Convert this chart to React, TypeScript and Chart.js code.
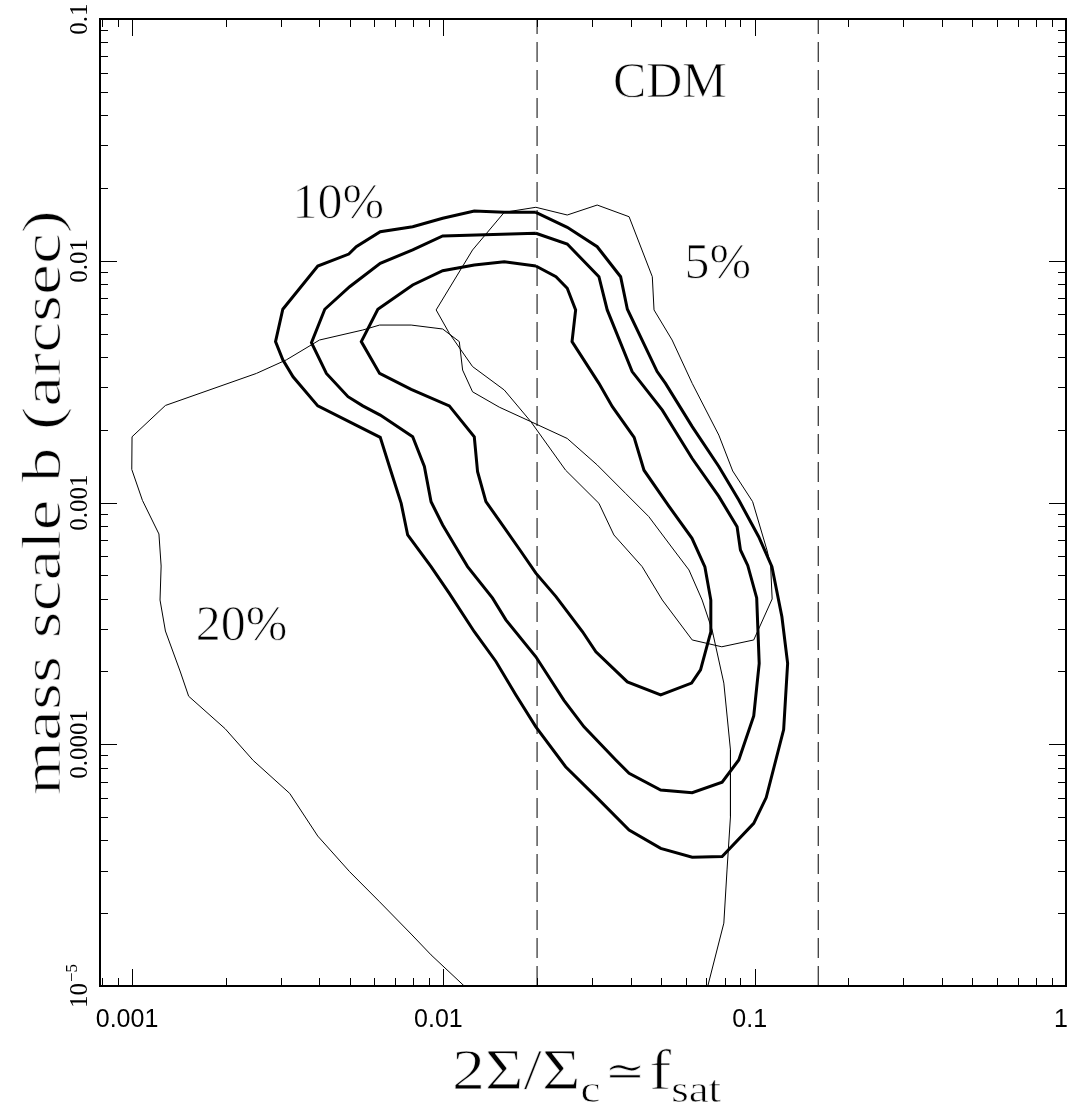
import React, { useEffect, useRef } from "react";
import { Chart, registerables } from "chart.js";

Chart.register(...registerables);

// ---------- data (x = 2Σ/Σc ≃ f_sat, y = mass scale b in arcsec) ----------
// thin 20% contour (open, enters and leaves through the bottom axis)
const c20X = [0.01167, 0.00913, 0.00788, 0.00624, 0.005, 0.00395, 0.00321, 0.00245, 0.00199, 0.00152, 0.00143, 0.00128, 0.00123, 0.00124, 0.00122, 0.00108, 0.000998, 0.001, 0.00128, 0.00251, 0.00313, 0.004, 0.00551, 0.00624, 0.00788, 0.00995, 0.01125, 0.01153, 0.01241, 0.01512, 0.0191, 0.025, 0.0312, 0.0385, 0.0457, 0.055, 0.0615, 0.0678, 0.073, 0.0796, 0.0836, 0.0836, 0.0815, 0.0796, 0.0707];
const c20Y = [1e-5, 1.345e-5, 1.64e-5, 2.23e-5, 2.97e-5, 4.17e-5, 6.26e-5, 8.57e-5, 1.16e-4, 1.58e-4, 1.99e-4, 2.94e-4, 3.95e-4, 5.46e-4, 7.41e-4, 1.02e-3, 1.37e-3, 1.87e-3, 2.52e-3, 3.42e-3, 3.89e-3, 4.7e-3, 5.17e-3, 5.42e-3, 5.42e-3, 5.22e-3, 4.63e-3, 3.53e-3, 2.87e-3, 2.48e-3, 2.16e-3, 1.84e-3, 1.43e-3, 1.09e-3, 8.74e-4, 6.36e-4, 5.26e-4, 3.95e-4, 2.97e-4, 1.79e-4, 9.47e-5, 5.02e-5, 3.02e-5, 1.82e-5, 1e-5];

// thin 5% contour (closed)
const c5X = [0.00948, 0.01241, 0.01569, 0.01982, 0.025, 0.0312, 0.0395, 0.0469, 0.0475, 0.0543, 0.063, 0.0767, 0.085, 0.0985, 0.1095, 0.1125, 0.1138, 0.0993, 0.0784, 0.063, 0.0505, 0.0435, 0.0353, 0.0316, 0.0247, 0.0191, 0.01569, 0.01241, 0.01045];
const c5Y = [6.26e-3, 0.01108, 0.01586, 0.01664, 0.01546, 0.017, 0.01521, 8.59e-3, 6.26e-3, 4.7e-3, 3.11e-3, 1.9e-3, 1.35e-3, 1.008e-3, 6.36e-4, 5.51e-4, 3.99e-4, 2.7e-4, 2.53e-4, 2.7e-4, 3.95e-4, 5.43e-4, 7.34e-4, 9.92e-4, 1.36e-3, 2.16e-3, 2.92e-3, 3.65e-3, 5.01e-3];

// thick 10% contours: outer, middle, inner (closed)
const outerX = [0.01982, 0.01569, 0.01257, 0.00995, 0.00797, 0.00627, 0.00525, 0.00497, 0.00395, 0.00305, 0.00289, 0.00305, 0.00329, 0.00395, 0.00627, 0.00671, 0.00732, 0.00768, 0.00913, 0.01045, 0.01257, 0.01475, 0.0171, 0.01982, 0.0247, 0.0309, 0.0395, 0.0499, 0.063, 0.0786, 0.0993, 0.1089, 0.1239, 0.1257, 0.1276, 0.1223, 0.1136, 0.103, 0.0889, 0.0767, 0.063, 0.0517, 0.0486, 0.039, 0.0371, 0.0312, 0.025];
const outerY = [0.01586, 0.01586, 0.01606, 0.01498, 0.01383, 0.01319, 0.01143, 0.01066, 9.51e-3, 6.3e-3, 4.63e-3, 3.89e-3, 3.31e-3, 2.51e-3, 1.86e-3, 1.41e-3, 9.92e-4, 7.34e-4, 5.43e-4, 4.21e-4, 2.92e-4, 2.2e-4, 1.6e-4, 1.18e-4, 8.07e-5, 6.07e-5, 4.42e-5, 3.71e-5, 3.41e-5, 3.43e-5, 4.71e-5, 6.02e-5, 1.15e-4, 1.57e-4, 2.16e-4, 3.37e-4, 5.43e-4, 7.22e-4, 1.024e-3, 1.41e-3, 2.06e-3, 3.11e-3, 3.48e-3, 6.3e-3, 8.59e-3, 0.01143, 0.01375];

const middleX = [0.01982, 0.00995, 0.00797, 0.00627, 0.005, 0.00416, 0.00377, 0.00421, 0.00494, 0.00551, 0.00627, 0.00797, 0.00869, 0.00913, 0.00995, 0.01111, 0.01196, 0.01439, 0.01588, 0.01982, 0.0244, 0.0283, 0.0358, 0.0395, 0.0499, 0.063, 0.0786, 0.0889, 0.0993, 0.1034, 0.1015, 0.095, 0.09, 0.0878, 0.0767, 0.063, 0.0505, 0.0404, 0.0336, 0.0316, 0.025];
const middleY = [0.01299, 0.01266, 0.01108, 9.76e-3, 7.81e-3, 6.3e-3, 4.58e-3, 3.42e-3, 2.74e-3, 2.51e-3, 2.3e-3, 1.87e-3, 1.41e-3, 1.008e-3, 8.07e-4, 6.36e-4, 5.43e-4, 4.02e-4, 3.27e-4, 2.3e-4, 1.52e-4, 1.18e-4, 8.61e-5, 7.58e-5, 6.47e-5, 6.3e-5, 6.97e-5, 8.61e-5, 1.31e-4, 2.16e-4, 4.03e-4, 5.49e-4, 6.36e-4, 7.94e-4, 1.06e-3, 1.52e-3, 2.41e-3, 3.48e-3, 6.26e-3, 8.59e-3, 0.01173];

const innerX = [0.01982, 0.01569, 0.01257, 0.00995, 0.00797, 0.00616, 0.00545, 0.00624, 0.00788, 0.01045, 0.01257, 0.01288, 0.0137, 0.01549, 0.01762, 0.01982, 0.023, 0.028, 0.0309, 0.039, 0.0499, 0.0627, 0.067, 0.0721, 0.0723, 0.0692, 0.0629, 0.053, 0.0441, 0.041, 0.0349, 0.0316, 0.0259, 0.0266, 0.025, 0.023];
const innerY = [9.51e-3, 9.91e-3, 9.6e-3, 9.1e-3, 7.94e-3, 6.3e-3, 4.63e-3, 3.42e-3, 2.94e-3, 2.51e-3, 1.87e-3, 1.34e-3, 1.008e-3, 8.07e-4, 6.36e-4, 5.1e-4, 4.08e-4, 2.92e-4, 2.41e-4, 1.81e-4, 1.6e-4, 1.79e-4, 2.03e-4, 2.88e-4, 3.95e-4, 5.41e-4, 7.11e-4, 9.67e-4, 1.36e-3, 1.86e-3, 2.49e-3, 3.11e-3, 4.63e-3, 6.26e-3, 7.69e-3, 8.59e-3];

// CDM band edges (dashed verticals)
const cdmEdges = [0.02, 0.16];

// axis ranges and ticks
const X_MIN = 0.000789;
const X_MAX = 1;
const Y_MIN = 1e-5;
const Y_MAX = 0.1;
const xMajorTicks = [0.001, 0.01, 0.1, 1];
const xTickLabels = ["0.001", "0.01", "0.1", "1"];
const xMinorTicks = [0.0008, 0.0009, 0.002, 0.003, 0.004, 0.005, 0.006, 0.007, 0.008, 0.009, 0.02, 0.03, 0.04, 0.05, 0.06, 0.07, 0.08, 0.09, 0.2, 0.3, 0.4, 0.5, 0.6, 0.7, 0.8, 0.9];
const yMajorTicks = [1e-5, 1e-4, 0.001, 0.01, 0.1];
const yTickLabels = ["10|−5", "0.0001", "0.001", "0.01", "0.1"];
const yMinorTicks = [2e-5, 3e-5, 4e-5, 5e-5, 6e-5, 7e-5, 8e-5, 9e-5, 2e-4, 3e-4, 4e-4, 5e-4, 6e-4, 7e-4, 8e-4, 9e-4, 0.002, 0.003, 0.004, 0.005, 0.006, 0.007, 0.008, 0.009, 0.02, 0.03, 0.04, 0.05, 0.06, 0.07, 0.08, 0.09];

// in-plot annotations (placed at data coordinates)
const noteTexts = ["10%", "5%", "20%", "CDM"];
const noteX = [0.0046, 0.0761, 0.00225, 0.0534];
const noteY = [0.0150, 0.00849, 0.00027, 0.0476];

const Y_TITLE = "mass scale b (arcsec)";

const W = 1073;
const H = 1114;
const SERIF = '"Liberation Serif", "DejaVu Serif", serif';
const SANS = '"Liberation Sans", Arial, sans-serif';

function pts(xs: number[], ys: number[], close: boolean) {
  const p = xs.map((x, i) => ({ x, y: ys[i] }));
  if (close) p.push({ x: xs[0], y: ys[0] });
  return p;
}

// light serif text: fill, then trim the glyph edges slightly with a thin white stroke
function lightText(ctx: any, t: string, x: number, y: number, trim: number) {
  ctx.fillText(t, x, y);
  if (trim > 0) {
    ctx.save();
    ctx.strokeStyle = "rgba(255,255,255,0.85)";
    ctx.lineWidth = trim;
    ctx.lineJoin = "round";
    ctx.strokeText(t, x, y);
    ctx.restore();
  }
}

const decorPlugin = {
  id: "decor",
  afterDatasetsDraw(chart: any) {
    const { ctx, chartArea: a, scales } = chart;
    const sx = scales.x;
    const sy = scales.y;
    ctx.save();
    ctx.strokeStyle = "#000";
    ctx.lineWidth = 1;
    const seg = (x1: number, y1: number, x2: number, y2: number) => {
      ctx.beginPath();
      ctx.moveTo(x1, y1);
      ctx.lineTo(x2, y2);
      ctx.stroke();
    };
    const xt = (v: number, len: number) => {
      const p = Math.round(sx.getPixelForValue(v)) + 0.5;
      seg(p, a.bottom, p, a.bottom - len);
      seg(p, a.top, p, a.top + len);
    };
    const yt = (v: number, len: number) => {
      const p = Math.round(sy.getPixelForValue(v)) + 0.5;
      seg(a.left, p, a.left + len, p);
      seg(a.right, p, a.right - len, p);
    };
    xMinorTicks.forEach((v) => xt(v, 8));
    xMajorTicks.forEach((v) => xt(v, 17));
    yMinorTicks.forEach((v) => yt(v, 8));
    yMajorTicks.forEach((v) => yt(v, 17));
    ctx.lineWidth = 2;
    ctx.strokeRect(a.left, a.top, a.right - a.left, a.bottom - a.top);
    ctx.restore();
  },
  afterDraw(chart: any) {
    const { ctx, chartArea: a, scales } = chart;
    const sx = scales.x;
    const sy = scales.y;
    ctx.save();
    ctx.fillStyle = "#000";
    ctx.textBaseline = "alphabetic";

    // x tick labels
    ctx.font = `25px ${SANS}`;
    ctx.textAlign = "center";
    xMajorTicks.forEach((v, i) => {
      ctx.fillText(xTickLabels[i], sx.getPixelForValue(v) - 5, a.bottom + 41);
    });

    // y tick labels (rotated)
    yMajorTicks.forEach((v, i) => {
      const p = sy.getPixelForValue(v);
      const lab = yTickLabels[i];
      ctx.save();
      ctx.translate(a.left - 13, p);
      ctx.rotate(-Math.PI / 2);
      ctx.textAlign = "left";
      if (lab.includes("|")) {
        const [base, sup] = lab.split("|");
        ctx.font = `25px ${SERIF}`;
        const wb = ctx.measureText(base).width;
        ctx.font = `17px ${SERIF}`;
        const ws = ctx.measureText(sup).width;
        const start = -(wb + ws + 1) / 2;
        ctx.font = `25px ${SERIF}`;
        ctx.fillText(base, start, 0);
        ctx.font = `17px ${SERIF}`;
        ctx.fillText(sup, start + wb + 1, -10);
      } else {
        ctx.font = `25px ${SERIF}`;
        ctx.textAlign = "center";
        ctx.fillText(lab, 0, 0);
      }
      ctx.restore();
    });

    // y axis title
    ctx.save();
    ctx.font = `54px ${SERIF}`;
    const tw = ctx.measureText(Y_TITLE).width;
    ctx.translate(a.left - 40, (a.top + a.bottom) / 2);
    ctx.rotate(-Math.PI / 2);
    ctx.scale(585 / tw, 1);
    ctx.textAlign = "center";
    lightText(ctx, Y_TITLE, 0, 0, 1.2);
    ctx.restore();

    // x axis title: 2Σ/Σ_c ≃ f_sat
    const parts: [string, number, number][] = [
      ["2Σ/Σ", 56, 0],
      ["c", 38, 13],
      ["≃", 42, -4],
      ["f", 56, 0],
      ["sat", 38, 13],
    ];
    let total = 0;
    const widths = parts.map(([t, size]) => {
      ctx.font = `${size}px ${SERIF}`;
      const w = ctx.measureText(t).width;
      total += w;
      return w;
    });
    const target = 262;
    const k = target / total;
    ctx.save();
    ctx.translate((a.left + a.right) / 2 - target / 2, a.bottom + 103);
    ctx.scale(k, 1);
    ctx.textAlign = "left";
    let cx = 0;
    parts.forEach(([t, size, dy], i) => {
      ctx.font = `${size}px ${SERIF}`;
      lightText(ctx, t, cx, dy, size > 40 ? 1.2 : 0.8);
      cx += widths[i] + (i === 1 || i === 2 ? 3 : 0);
    });
    ctx.restore();

    // annotations
    ctx.font = `50px ${SERIF}`;
    ctx.textAlign = "center";
    noteTexts.forEach((t, i) => {
      lightText(ctx, t, sx.getPixelForValue(noteX[i]), sy.getPixelForValue(noteY[i]), 1.1);
    });
    ctx.restore();
  },
};

export default function App() {
  const ref = useRef<HTMLCanvasElement | null>(null);
  useEffect(() => {
    if (!ref.current) return;
    const thin = { borderColor: "#000", borderWidth: 1, pointRadius: 0, showLine: true, tension: 0, fill: false };
    const thick = { borderColor: "#000", borderWidth: 3, pointRadius: 0, showLine: true, tension: 0, fill: false };
    const datasets: any[] = [
      { label: "20%", data: pts(c20X, c20Y, false), ...thin },
      { label: "5%", data: pts(c5X, c5Y, true), ...thin },
      { label: "10% outer", data: pts(outerX, outerY, true), ...thick },
      { label: "10% middle", data: pts(middleX, middleY, true), ...thick },
      { label: "10% inner", data: pts(innerX, innerY, true), ...thick },
      ...cdmEdges.map((e) => ({
        label: "CDM edge",
        data: [{ x: e, y: Y_MIN }, { x: e, y: Y_MAX }],
        borderColor: "#000",
        borderWidth: 1,
        borderDash: [20, 8],
        pointRadius: 0,
        showLine: true,
        fill: false,
      })),
    ];
    const chart = new Chart(ref.current, {
      type: "scatter",
      data: { datasets },
      options: {
        responsive: false,
        animation: false,
        devicePixelRatio: 1,
        layout: { padding: { left: 100, right: 7, top: 19, bottom: 128 } },
        plugins: { legend: { display: false }, tooltip: { enabled: false } },
        scales: {
          x: { type: "logarithmic", min: X_MIN, max: X_MAX, display: false },
          y: { type: "logarithmic", min: Y_MIN, max: Y_MAX, display: false },
        },
      } as any,
      plugins: [decorPlugin],
    });
    return () => chart.destroy();
  }, []);
  return (
    <div style={{ position: "absolute", left: 0, top: 0, width: W, height: H, background: "#fff" }}>
      <canvas ref={ref} width={W} height={H} style={{ display: "block" }} />
    </div>
  );
}
